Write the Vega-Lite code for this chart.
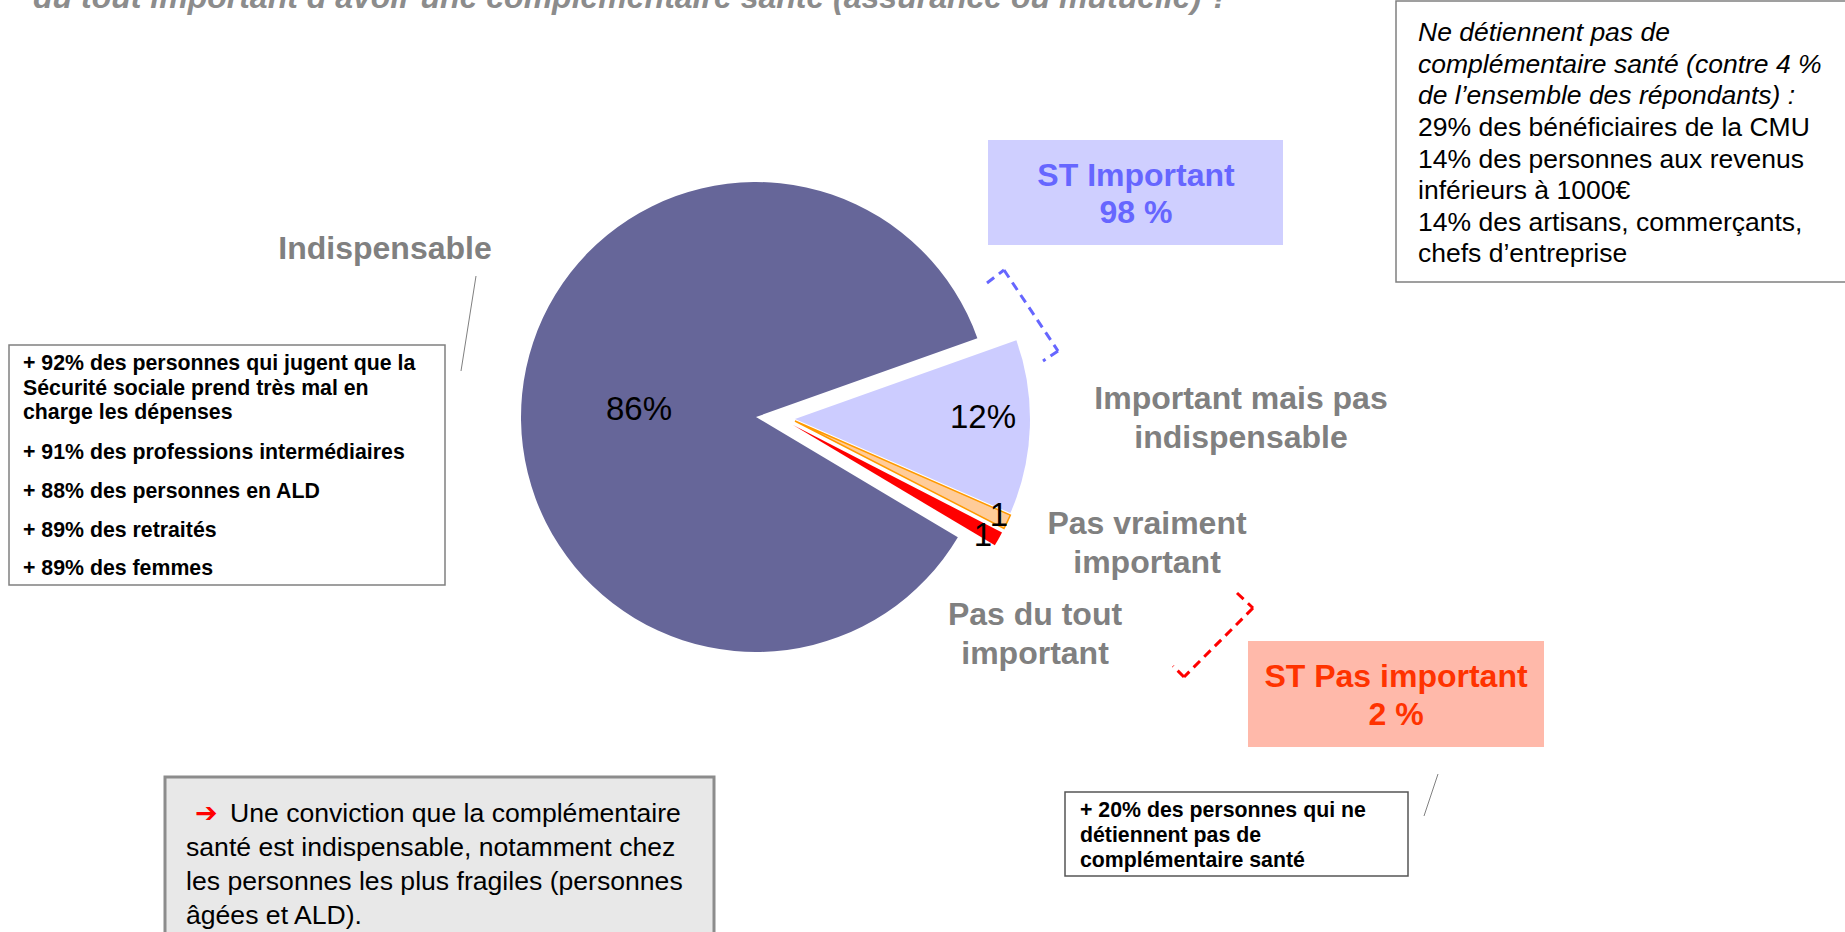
{
  "$schema": "https://vega.github.io/schema/vega-lite/v6.json",
  "width": 1845,
  "height": 932,
  "autosize": {"type": "none"},
  "padding": 0,
  "background": "white",
  "config": {"view": {"stroke": null}, "text": {"font": "Liberation Sans"}},
  "data": {"values": [
    {"categorie": "Important mais pas indispensable", "value": 12, "label": "12%", "order": 1},
    {"categorie": "Pas vraiment important", "value": 1, "label": "1", "order": 2},
    {"categorie": "Pas du tout important", "value": 1, "label": "1", "order": 3},
    {"categorie": "Indispensable", "value": 86, "label": "86%", "order": 4}
  ]},
  "layer": [
    {"data": {"values": [{}]}, "mark": {"type": "rect", "fill": "white", "stroke": "#808080", "strokeWidth": 1.5},
     "encoding": {"x": {"datum": 1396, "type": "quantitative", "scale": {"domain": [0, 1845], "nice": false, "zero": false}, "axis": null}, "x2": {"datum": 1852},
                  "y": {"datum": 1, "type": "quantitative", "scale": {"domain": [0, 932], "reverse": true, "nice": false, "zero": false}, "axis": null}, "y2": {"datum": 282}}},
    {"data": {"values": [{}]}, "mark": {"type": "rect", "fill": "white", "stroke": "#808080", "strokeWidth": 1.5},
     "encoding": {"x": {"datum": 9, "type": "quantitative", "scale": {"domain": [0, 1845], "nice": false, "zero": false}, "axis": null}, "x2": {"datum": 445},
                  "y": {"datum": 345, "type": "quantitative", "scale": {"domain": [0, 932], "reverse": true, "nice": false, "zero": false}, "axis": null}, "y2": {"datum": 585}}},
    {"data": {"values": [{}]}, "mark": {"type": "rect", "fill": "white", "stroke": "#555555", "strokeWidth": 1.5},
     "encoding": {"x": {"datum": 1065, "type": "quantitative", "scale": {"domain": [0, 1845], "nice": false, "zero": false}, "axis": null}, "x2": {"datum": 1408},
                  "y": {"datum": 792, "type": "quantitative", "scale": {"domain": [0, 932], "reverse": true, "nice": false, "zero": false}, "axis": null}, "y2": {"datum": 876}}},
    {"data": {"values": [{}]}, "mark": {"type": "rect", "fill": "#E8E8E8", "stroke": "#8C8C8C", "strokeWidth": 3},
     "encoding": {"x": {"datum": 165, "type": "quantitative", "scale": {"domain": [0, 1845], "nice": false, "zero": false}, "axis": null}, "x2": {"datum": 714},
                  "y": {"datum": 777, "type": "quantitative", "scale": {"domain": [0, 932], "reverse": true, "nice": false, "zero": false}, "axis": null}, "y2": {"datum": 940}}},
    {"data": {"values": [{}]}, "mark": {"type": "rect", "fill": "#CFCFFF"},
     "encoding": {"x": {"datum": 988, "type": "quantitative", "scale": {"domain": [0, 1845], "nice": false, "zero": false}, "axis": null}, "x2": {"datum": 1283},
                  "y": {"datum": 140, "type": "quantitative", "scale": {"domain": [0, 932], "reverse": true, "nice": false, "zero": false}, "axis": null}, "y2": {"datum": 245}}},
    {"data": {"values": [{}]}, "mark": {"type": "rect", "fill": "#FFB9AA"},
     "encoding": {"x": {"datum": 1248, "type": "quantitative", "scale": {"domain": [0, 1845], "nice": false, "zero": false}, "axis": null}, "x2": {"datum": 1544},
                  "y": {"datum": 641, "type": "quantitative", "scale": {"domain": [0, 932], "reverse": true, "nice": false, "zero": false}, "axis": null}, "y2": {"datum": 747}}},
    {"data": {"values": [{}]}, "mark": {"type": "rule", "color": "#808080", "strokeWidth": 1},
     "encoding": {"x": {"datum": 476, "type": "quantitative", "scale": {"domain": [0, 1845], "nice": false, "zero": false}, "axis": null}, "x2": {"datum": 461},
                  "y": {"datum": 276, "type": "quantitative", "scale": {"domain": [0, 932], "reverse": true, "nice": false, "zero": false}, "axis": null}, "y2": {"datum": 371}}},
    {"data": {"values": [{}]}, "mark": {"type": "rule", "color": "#808080", "strokeWidth": 1},
     "encoding": {"x": {"datum": 1438, "type": "quantitative", "scale": {"domain": [0, 1845], "nice": false, "zero": false}, "axis": null}, "x2": {"datum": 1424},
                  "y": {"datum": 774, "type": "quantitative", "scale": {"domain": [0, 932], "reverse": true, "nice": false, "zero": false}, "axis": null}, "y2": {"datum": 816}}},
    {"data": {"values": [{}]}, "mark": {"type": "rule", "color": "#6666FF", "strokeWidth": 3, "strokeDash": [9, 6]},
     "encoding": {"x": {"datum": 987, "type": "quantitative", "scale": {"domain": [0, 1845], "nice": false, "zero": false}, "axis": null}, "x2": {"datum": 1004},
                  "y": {"datum": 283, "type": "quantitative", "scale": {"domain": [0, 932], "reverse": true, "nice": false, "zero": false}, "axis": null}, "y2": {"datum": 270}}},
    {"data": {"values": [{}]}, "mark": {"type": "rule", "color": "#6666FF", "strokeWidth": 3, "strokeDash": [9, 6]},
     "encoding": {"x": {"datum": 1004, "type": "quantitative", "scale": {"domain": [0, 1845], "nice": false, "zero": false}, "axis": null}, "x2": {"datum": 1058},
                  "y": {"datum": 270, "type": "quantitative", "scale": {"domain": [0, 932], "reverse": true, "nice": false, "zero": false}, "axis": null}, "y2": {"datum": 351}}},
    {"data": {"values": [{}]}, "mark": {"type": "rule", "color": "#6666FF", "strokeWidth": 3, "strokeDash": [9, 6]},
     "encoding": {"x": {"datum": 1058, "type": "quantitative", "scale": {"domain": [0, 1845], "nice": false, "zero": false}, "axis": null}, "x2": {"datum": 1043},
                  "y": {"datum": 351, "type": "quantitative", "scale": {"domain": [0, 932], "reverse": true, "nice": false, "zero": false}, "axis": null}, "y2": {"datum": 361}}},
    {"data": {"values": [{}]}, "mark": {"type": "rule", "color": "#FF0000", "strokeWidth": 3, "strokeDash": [9, 6]},
     "encoding": {"x": {"datum": 1237, "type": "quantitative", "scale": {"domain": [0, 1845], "nice": false, "zero": false}, "axis": null}, "x2": {"datum": 1253},
                  "y": {"datum": 593, "type": "quantitative", "scale": {"domain": [0, 932], "reverse": true, "nice": false, "zero": false}, "axis": null}, "y2": {"datum": 608}}},
    {"data": {"values": [{}]}, "mark": {"type": "rule", "color": "#FF0000", "strokeWidth": 3, "strokeDash": [9, 6]},
     "encoding": {"x": {"datum": 1253, "type": "quantitative", "scale": {"domain": [0, 1845], "nice": false, "zero": false}, "axis": null}, "x2": {"datum": 1184},
                  "y": {"datum": 608, "type": "quantitative", "scale": {"domain": [0, 932], "reverse": true, "nice": false, "zero": false}, "axis": null}, "y2": {"datum": 677}}},
    {"data": {"values": [{}]}, "mark": {"type": "rule", "color": "#FF0000", "strokeWidth": 3, "strokeDash": [9, 6]},
     "encoding": {"x": {"datum": 1184, "type": "quantitative", "scale": {"domain": [0, 1845], "nice": false, "zero": false}, "axis": null}, "x2": {"datum": 1173},
                  "y": {"datum": 677, "type": "quantitative", "scale": {"domain": [0, 932], "reverse": true, "nice": false, "zero": false}, "axis": null}, "y2": {"datum": 666}}},
    {"transform": [{"stack": "value", "groupby": [], "sort": [{"field": "order", "order": "ascending"}], "as": ["v0", "v1"]}, {"filter": "datum.categorie === 'Indispensable'"}],
     "mark": {"type": "arc", "outerRadius": 235, "fill": "#666699"},
     "encoding": {"theta": {"field": "v0", "type": "quantitative", "scale": {"domain": [0, 100], "range": [1.2287, 7.5119]}}, "theta2": {"field": "v1"},
                  "x": {"datum": 756, "type": "quantitative", "scale": {"domain": [0, 1845], "nice": false, "zero": false}, "axis": null},
                  "y": {"datum": 417, "type": "quantitative", "scale": {"domain": [0, 932], "reverse": true, "nice": false, "zero": false}, "axis": null}}},
    {"transform": [{"stack": "value", "groupby": [], "sort": [{"field": "order", "order": "ascending"}], "as": ["v0", "v1"]}, {"filter": "datum.categorie === 'Important mais pas indispensable'"}],
     "mark": {"type": "arc", "outerRadius": 235, "fill": "#CCCCFF"},
     "encoding": {"theta": {"field": "v0", "type": "quantitative", "scale": {"domain": [0, 100], "range": [1.2287, 7.5119]}}, "theta2": {"field": "v1"},
                  "x": {"datum": 795, "type": "quantitative", "scale": {"domain": [0, 1845], "nice": false, "zero": false}, "axis": null},
                  "y": {"datum": 419, "type": "quantitative", "scale": {"domain": [0, 932], "reverse": true, "nice": false, "zero": false}, "axis": null}}},
    {"transform": [{"stack": "value", "groupby": [], "sort": [{"field": "order", "order": "ascending"}], "as": ["v0", "v1"]}, {"filter": "datum.categorie === 'Pas vraiment important'"}],
     "mark": {"type": "arc", "outerRadius": 235, "fill": "#FFCC99", "stroke": "#FF9900", "strokeWidth": 1.5},
     "encoding": {"theta": {"field": "v0", "type": "quantitative", "scale": {"domain": [0, 100], "range": [1.2287, 7.5119]}}, "theta2": {"field": "v1"},
                  "x": {"datum": 795, "type": "quantitative", "scale": {"domain": [0, 1845], "nice": false, "zero": false}, "axis": null},
                  "y": {"datum": 421, "type": "quantitative", "scale": {"domain": [0, 932], "reverse": true, "nice": false, "zero": false}, "axis": null}}},
    {"transform": [{"stack": "value", "groupby": [], "sort": [{"field": "order", "order": "ascending"}], "as": ["v0", "v1"]}, {"filter": "datum.categorie === 'Pas du tout important'"}],
     "mark": {"type": "arc", "outerRadius": 235, "fill": "#FF0000"},
     "encoding": {"theta": {"field": "v0", "type": "quantitative", "scale": {"domain": [0, 100], "range": [1.2287, 7.5119]}}, "theta2": {"field": "v1"},
                  "x": {"datum": 793, "type": "quantitative", "scale": {"domain": [0, 1845], "nice": false, "zero": false}, "axis": null},
                  "y": {"datum": 425, "type": "quantitative", "scale": {"domain": [0, 932], "reverse": true, "nice": false, "zero": false}, "axis": null}}},
    {"transform": [{"filter": "datum.categorie === 'Indispensable'"}],
     "mark": {"type": "text", "fontSize": 33, "color": "black"},
     "encoding": {"text": {"field": "label"}, "x": {"datum": 639, "type": "quantitative", "scale": {"domain": [0, 1845], "nice": false, "zero": false}, "axis": null},
                  "y": {"datum": 410, "type": "quantitative", "scale": {"domain": [0, 932], "reverse": true, "nice": false, "zero": false}, "axis": null}}},
    {"transform": [{"filter": "datum.categorie === 'Important mais pas indispensable'"}],
     "mark": {"type": "text", "fontSize": 33, "color": "black"},
     "encoding": {"text": {"field": "label"}, "x": {"datum": 983, "type": "quantitative", "scale": {"domain": [0, 1845], "nice": false, "zero": false}, "axis": null},
                  "y": {"datum": 418, "type": "quantitative", "scale": {"domain": [0, 932], "reverse": true, "nice": false, "zero": false}, "axis": null}}},
    {"transform": [{"filter": "datum.categorie === 'Pas vraiment important'"}],
     "mark": {"type": "text", "fontSize": 33, "color": "black"},
     "encoding": {"text": {"field": "label"}, "x": {"datum": 999, "type": "quantitative", "scale": {"domain": [0, 1845], "nice": false, "zero": false}, "axis": null},
                  "y": {"datum": 516, "type": "quantitative", "scale": {"domain": [0, 932], "reverse": true, "nice": false, "zero": false}, "axis": null}}},
    {"transform": [{"filter": "datum.categorie === 'Pas du tout important'"}],
     "mark": {"type": "text", "fontSize": 33, "color": "black"},
     "encoding": {"text": {"field": "label"}, "x": {"datum": 983, "type": "quantitative", "scale": {"domain": [0, 1845], "nice": false, "zero": false}, "axis": null},
                  "y": {"datum": 536, "type": "quantitative", "scale": {"domain": [0, 932], "reverse": true, "nice": false, "zero": false}, "axis": null}}},
    {"data": {"values": [{}]}, "mark": {"type": "text", "text": "du tout important d’avoir une complémentaire santé (assurance ou mutuelle) ?", "font": "Liberation Sans", "fontSize": 32, "fontWeight": "bold", "fontStyle": "italic", "color": "#8C8C8C", "align": "left", "baseline": "alphabetic"},
     "encoding": {"x": {"datum": 33, "type": "quantitative", "scale": {"domain": [0, 1845], "nice": false, "zero": false}, "axis": null},
                  "y": {"datum": 8, "type": "quantitative", "scale": {"domain": [0, 932], "reverse": true, "nice": false, "zero": false}, "axis": null}}},
    {"data": {"values": [{}]}, "mark": {"type": "text", "text": "Indispensable", "fontSize": 32, "fontWeight": "bold", "color": "#808080"},
     "encoding": {"x": {"datum": 385, "type": "quantitative", "scale": {"domain": [0, 1845], "nice": false, "zero": false}, "axis": null},
                  "y": {"datum": 249, "type": "quantitative", "scale": {"domain": [0, 932], "reverse": true, "nice": false, "zero": false}, "axis": null}}},
    {"data": {"values": [{}]}, "mark": {"type": "text", "text": ["Important mais pas", "indispensable"], "lineHeight": 39, "fontSize": 32, "fontWeight": "bold", "color": "#808080"},
     "encoding": {"x": {"datum": 1241, "type": "quantitative", "scale": {"domain": [0, 1845], "nice": false, "zero": false}, "axis": null},
                  "y": {"datum": 399, "type": "quantitative", "scale": {"domain": [0, 932], "reverse": true, "nice": false, "zero": false}, "axis": null}}},
    {"data": {"values": [{}]}, "mark": {"type": "text", "text": ["Pas vraiment", "important"], "lineHeight": 39, "fontSize": 32, "fontWeight": "bold", "color": "#808080"},
     "encoding": {"x": {"datum": 1147, "type": "quantitative", "scale": {"domain": [0, 1845], "nice": false, "zero": false}, "axis": null},
                  "y": {"datum": 524, "type": "quantitative", "scale": {"domain": [0, 932], "reverse": true, "nice": false, "zero": false}, "axis": null}}},
    {"data": {"values": [{}]}, "mark": {"type": "text", "text": ["Pas du tout", "important"], "lineHeight": 39, "fontSize": 32, "fontWeight": "bold", "color": "#808080"},
     "encoding": {"x": {"datum": 1035, "type": "quantitative", "scale": {"domain": [0, 1845], "nice": false, "zero": false}, "axis": null},
                  "y": {"datum": 615, "type": "quantitative", "scale": {"domain": [0, 932], "reverse": true, "nice": false, "zero": false}, "axis": null}}},
    {"data": {"values": [{}]}, "mark": {"type": "text", "text": ["ST Important", "98 %"], "lineHeight": 37, "fontSize": 32, "fontWeight": "bold", "color": "#6666FF"},
     "encoding": {"x": {"datum": 1136, "type": "quantitative", "scale": {"domain": [0, 1845], "nice": false, "zero": false}, "axis": null},
                  "y": {"datum": 176, "type": "quantitative", "scale": {"domain": [0, 932], "reverse": true, "nice": false, "zero": false}, "axis": null}}},
    {"data": {"values": [{}]}, "mark": {"type": "text", "text": ["ST Pas important", "2 %"], "lineHeight": 38, "fontSize": 32, "fontWeight": "bold", "color": "#FF3300"},
     "encoding": {"x": {"datum": 1396, "type": "quantitative", "scale": {"domain": [0, 1845], "nice": false, "zero": false}, "axis": null},
                  "y": {"datum": 677, "type": "quantitative", "scale": {"domain": [0, 932], "reverse": true, "nice": false, "zero": false}, "axis": null}}},
    {"data": {"values": [{}]}, "mark": {"type": "text", "text": ["Ne détiennent pas de", "complémentaire santé (contre 4 %", "de l’ensemble des répondants) :"], "lineHeight": 31.6, "fontSize": 26.5, "fontStyle": "italic", "color": "black", "align": "left"},
     "encoding": {"x": {"datum": 1418, "type": "quantitative", "scale": {"domain": [0, 1845], "nice": false, "zero": false}, "axis": null},
                  "y": {"datum": 33, "type": "quantitative", "scale": {"domain": [0, 932], "reverse": true, "nice": false, "zero": false}, "axis": null}}},
    {"data": {"values": [{}]}, "mark": {"type": "text", "text": ["29% des bénéficiaires de la CMU", "14% des personnes aux revenus", "inférieurs à 1000€", "14% des artisans, commerçants,", "chefs d’entreprise"], "lineHeight": 31.6, "fontSize": 26.5, "color": "black", "align": "left"},
     "encoding": {"x": {"datum": 1418, "type": "quantitative", "scale": {"domain": [0, 1845], "nice": false, "zero": false}, "axis": null},
                  "y": {"datum": 128, "type": "quantitative", "scale": {"domain": [0, 932], "reverse": true, "nice": false, "zero": false}, "axis": null}}},
    {"data": {"values": [{}]}, "mark": {"type": "text", "text": ["+ 92% des personnes qui jugent que la", "Sécurité sociale prend très mal en", "charge les dépenses"], "lineHeight": 24.5, "fontSize": 21.3, "fontWeight": "bold", "color": "black", "align": "left"},
     "encoding": {"x": {"datum": 23, "type": "quantitative", "scale": {"domain": [0, 1845], "nice": false, "zero": false}, "axis": null},
                  "y": {"datum": 364, "type": "quantitative", "scale": {"domain": [0, 932], "reverse": true, "nice": false, "zero": false}, "axis": null}}},
    {"data": {"values": [{}]}, "mark": {"type": "text", "text": "+ 91% des professions intermédiaires", "fontSize": 21.3, "fontWeight": "bold", "color": "black", "align": "left"},
     "encoding": {"x": {"datum": 23, "type": "quantitative", "scale": {"domain": [0, 1845], "nice": false, "zero": false}, "axis": null},
                  "y": {"datum": 453, "type": "quantitative", "scale": {"domain": [0, 932], "reverse": true, "nice": false, "zero": false}, "axis": null}}},
    {"data": {"values": [{}]}, "mark": {"type": "text", "text": "+ 88% des personnes en ALD", "fontSize": 21.3, "fontWeight": "bold", "color": "black", "align": "left"},
     "encoding": {"x": {"datum": 23, "type": "quantitative", "scale": {"domain": [0, 1845], "nice": false, "zero": false}, "axis": null},
                  "y": {"datum": 492, "type": "quantitative", "scale": {"domain": [0, 932], "reverse": true, "nice": false, "zero": false}, "axis": null}}},
    {"data": {"values": [{}]}, "mark": {"type": "text", "text": "+ 89% des retraités", "fontSize": 21.3, "fontWeight": "bold", "color": "black", "align": "left"},
     "encoding": {"x": {"datum": 23, "type": "quantitative", "scale": {"domain": [0, 1845], "nice": false, "zero": false}, "axis": null},
                  "y": {"datum": 531, "type": "quantitative", "scale": {"domain": [0, 932], "reverse": true, "nice": false, "zero": false}, "axis": null}}},
    {"data": {"values": [{}]}, "mark": {"type": "text", "text": "+ 89% des femmes", "fontSize": 21.3, "fontWeight": "bold", "color": "black", "align": "left"},
     "encoding": {"x": {"datum": 23, "type": "quantitative", "scale": {"domain": [0, 1845], "nice": false, "zero": false}, "axis": null},
                  "y": {"datum": 569, "type": "quantitative", "scale": {"domain": [0, 932], "reverse": true, "nice": false, "zero": false}, "axis": null}}},
    {"data": {"values": [{}]}, "mark": {"type": "text", "text": ["+ 20% des personnes qui ne", "détiennent pas de", "complémentaire santé"], "lineHeight": 25, "fontSize": 21.3, "fontWeight": "bold", "color": "black", "align": "left"},
     "encoding": {"x": {"datum": 1080, "type": "quantitative", "scale": {"domain": [0, 1845], "nice": false, "zero": false}, "axis": null},
                  "y": {"datum": 811, "type": "quantitative", "scale": {"domain": [0, 932], "reverse": true, "nice": false, "zero": false}, "axis": null}}},
    {"data": {"values": [{}]}, "mark": {"type": "text", "text": "➔", "font": "DejaVu Sans", "fontSize": 27, "fontWeight": "bold", "color": "#FF0000", "align": "left"},
     "encoding": {"x": {"datum": 195, "type": "quantitative", "scale": {"domain": [0, 1845], "nice": false, "zero": false}, "axis": null},
                  "y": {"datum": 814, "type": "quantitative", "scale": {"domain": [0, 932], "reverse": true, "nice": false, "zero": false}, "axis": null}}},
    {"data": {"values": [{}]}, "mark": {"type": "text", "text": "Une conviction que la complémentaire", "fontSize": 26.6, "color": "black", "align": "left"},
     "encoding": {"x": {"datum": 230, "type": "quantitative", "scale": {"domain": [0, 1845], "nice": false, "zero": false}, "axis": null},
                  "y": {"datum": 814, "type": "quantitative", "scale": {"domain": [0, 932], "reverse": true, "nice": false, "zero": false}, "axis": null}}},
    {"data": {"values": [{}]}, "mark": {"type": "text", "text": ["santé est indispensable, notamment chez", "les personnes les plus fragiles (personnes", "âgées et ALD)."], "lineHeight": 34, "fontSize": 26.6, "color": "black", "align": "left"},
     "encoding": {"x": {"datum": 186, "type": "quantitative", "scale": {"domain": [0, 1845], "nice": false, "zero": false}, "axis": null},
                  "y": {"datum": 848, "type": "quantitative", "scale": {"domain": [0, 932], "reverse": true, "nice": false, "zero": false}, "axis": null}}}
  ]
}
